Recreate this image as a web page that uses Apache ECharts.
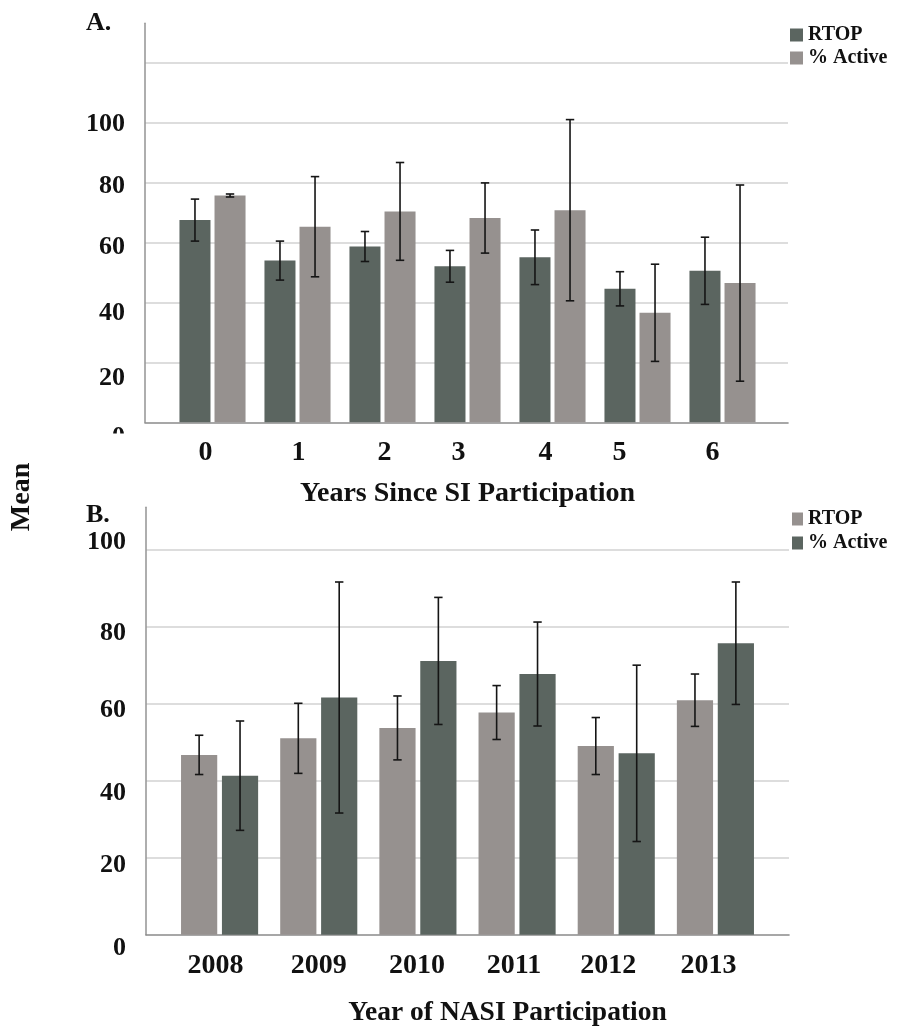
<!DOCTYPE html>
<html>
<head>
<meta charset="utf-8">
<script src="https://cdn.jsdelivr.net/npm/echarts@6/dist/echarts.min.js"></script>
<style>
html,body{margin:0;padding:0;background:#fff;}
#chart{width:902px;height:1032px;}
</style>
</head>
<body>
<div id="chart"></div>
<script>
// ---- Panel A data ----
var catsA = ['0', '1', '2', '3', '4', '5', '6'];
var rtopA = [67.4, 53.9, 58.6, 52.0, 55.0, 44.5, 50.5];
var rtopErrA = [7.0, 6.5, 5.0, 5.3, 9.1, 5.7, 11.2];
var activeA = [75.6, 65.2, 70.3, 68.1, 70.7, 36.5, 46.4];
var activeErrA = [0.5, 16.7, 16.3, 11.7, 30.2, 16.2, 32.7];
var yTicksA = [0, 20, 40, 60, 80, 100];

// ---- Panel B data ----
var catsB = ['2008', '2009', '2010', '2011', '2012', '2013'];
var rtopB = [46.7, 51.0, 53.7, 57.7, 49.0, 60.9];
var rtopErrB = [5.1, 9.1, 8.3, 7.0, 7.4, 6.8];
var activeB = [41.3, 61.6, 71.1, 67.7, 47.1, 75.7];
var activeErrB = [14.2, 30.0, 16.5, 13.5, 22.9, 15.9];
var yTicksB = [0, 20, 40, 60, 80, 100];

var DARK = '#5b6560', LIGHT = '#96918f';
var FONT = '"Liberation Serif", "DejaVu Serif", serif';
var BAR_W = 0.365, BAR_GAP = 0.13;

// label placement tweaks (pixels) to mimic the hand-placed labels of the original
var yShiftA = {0: 15, 20: 16, 40: 11, 60: 5, 80: 4, 100: 2};
var yShiftB = {0: 14, 20: 8, 40: 13, 60: 7, 80: 7, 100: -7};
var xShiftA = [-7, 1, 2, -9, -7, -18, -10];
var xShiftB = [-4, 0, -1, -3, -8, -7];

function vRich(shifts, size) {
  var r = {};
  Object.keys(shifts).forEach(function (k) {
    var d = shifts[k];
    r['v' + k] = {
      fontSize: size, fontWeight: 'bold', fontFamily: FONT, color: '#111',
      padding: d >= 0 ? [2 * d, 0, 0, 0] : [0, 0, -2 * d, 0]
    };
  });
  return r;
}
function hRich(shifts, size) {
  var r = {};
  shifts.forEach(function (d, i) {
    r['h' + i] = {
      fontSize: size, fontWeight: 'bold', fontFamily: FONT, color: '#111',
      padding: d >= 0 ? [0, 0, 0, 2 * d] : [0, -2 * d, 0, 0]
    };
  });
  return r;
}
function yFormatter(ticks) {
  return function (v) {
    if (ticks.indexOf(v) < 0) return '';
    return '{v' + v + '|' + v + '}';
  };
}
function xFormatter(cats) {
  return function (v) {
    var i = cats.indexOf(v);
    return '{h' + i + '|' + v + '}';
  };
}

function errData(vals, errs) {
  return vals.map(function (v, i) { return [i, v - errs[i], v + errs[i]]; });
}
function errRenderer(side) {
  return function (params, api) {
    var idx = api.value(0);
    var band = api.size([1, 0])[0];
    var w = band * BAR_W, g = w * BAR_GAP;
    var off = side * (w + g) / 2;
    var lo = api.coord([idx, api.value(1)]);
    var hi = api.coord([idx, api.value(2)]);
    var x = lo[0] + off;
    var cap = 4.2;
    var st = {stroke: '#151515', lineWidth: 1.6};
    return {
      type: 'group',
      children: [
        {type: 'line', shape: {x1: x, y1: lo[1], x2: x, y2: hi[1]}, style: st},
        {type: 'line', shape: {x1: x - cap, y1: lo[1], x2: x + cap, y2: lo[1]}, style: st},
        {type: 'line', shape: {x1: x - cap, y1: hi[1], x2: x + cap, y2: hi[1]}, style: st}
      ]
    };
  };
}

var chart = echarts.init(document.getElementById('chart'), null, {renderer: 'canvas'});

function outerX(grid) {
  return {
    gridIndex: grid, type: 'value', min: 0, max: 1,
    axisLine: {show: true, lineStyle: {color: '#8a8a8a', width: 1.6}},
    axisTick: {show: false}, axisLabel: {show: false}, splitLine: {show: false}
  };
}
function outerY(grid, max, ticks, shifts) {
  return {
    gridIndex: grid, type: 'value', min: 0, max: max, interval: 20,
    axisLine: {show: true, lineStyle: {color: '#9a9a9a', width: 1.6}},
    axisTick: {show: false},
    axisLabel: {
      show: true, margin: 20, showMaxLabel: false,
      formatter: yFormatter(ticks), rich: vRich(shifts, 26)
    },
    splitLine: {show: true, showMinLine: false, showMaxLine: false,
      lineStyle: {color: '#d2d2d2', width: 1.6}}
  };
}
function innerY(grid, max) {
  return {gridIndex: grid, type: 'value', min: 0, max: max, show: false};
}

var option = {
  backgroundColor: '#fff',
  animation: false,
  title: [
    {text: 'A.', left: 81, top: 5, textStyle: {fontFamily: FONT, fontWeight: 'bold', fontSize: 26, color: '#111'}},
    {text: 'B.', left: 81, top: 497, textStyle: {fontFamily: FONT, fontWeight: 'bold', fontSize: 26, color: '#111'}}
  ],
  legend: [
    {
      data: [{name: 'RTOP', itemStyle: {color: DARK}}, {name: '% Active', itemStyle: {color: LIGHT}}],
      orient: 'vertical', left: 790, top: 25, itemWidth: 13, itemHeight: 13, itemGap: 3,
      itemTextGap: 6, selectedMode: false, icon: 'rect', padding: 0,
      textStyle: {fontFamily: FONT, fontWeight: 'bold', fontSize: 20, lineHeight: 14, color: '#111'}
    },
    {
      data: [{name: 'RTOP', itemStyle: {color: LIGHT}}, {name: '% Active', itemStyle: {color: DARK}}],
      orient: 'vertical', left: 792, top: 509, itemWidth: 11, itemHeight: 13, itemGap: 4,
      itemTextGap: 10, selectedMode: false, icon: 'rect', padding: 0,
      textStyle: {fontFamily: FONT, fontWeight: 'bold', fontSize: 20, lineHeight: 14, color: '#111'}
    }
  ],
  grid: [
    {left: 145, right: 114, top: 23.3, bottom: 609.7},
    {left: 170, right: 137, top: 23.3, bottom: 609.7},
    {left: 146, right: 113, top: 507.3, bottom: 97.3},
    {left: 170, right: 137, top: 507.3, bottom: 97.3}
  ],
  xAxis: [
    outerX(0),
    {
      gridIndex: 1, type: 'category', data: catsA,
      axisLine: {show: false}, axisTick: {show: false},
      axisLabel: {margin: 16, formatter: xFormatter(catsA), rich: hRich(xShiftA, 28)},
      name: 'Years Since SI Participation', nameLocation: 'middle', nameGap: 57,
      nameTextStyle: {fontFamily: FONT, fontWeight: 'bold', fontSize: 28, color: '#111', padding: [0, 0, 0, 0]}
    },
    outerX(2),
    {
      gridIndex: 3, type: 'category', data: catsB,
      axisLine: {show: false}, axisTick: {show: false},
      axisLabel: {margin: 17, formatter: xFormatter(catsB), rich: hRich(xShiftB, 28)},
      name: 'Year of NASI Participation', nameLocation: 'middle', nameGap: 64,
      nameTextStyle: {fontFamily: FONT, fontWeight: 'bold', fontSize: 27.5, color: '#111', padding: [0, 0, 0, 80]}
    }
  ],
  yAxis: [
    outerY(0, 133, yTicksA, yShiftA),
    innerY(1, 133),
    outerY(2, 111, yTicksB, yShiftB),
    innerY(3, 111)
  ],
  series: [
    {name: 'RTOP', type: 'bar', xAxisIndex: 1, yAxisIndex: 1, data: rtopA,
      barWidth: (BAR_W * 100) + '%', barGap: (BAR_GAP * 100) + '%', itemStyle: {color: DARK}},
    {name: '% Active', type: 'bar', xAxisIndex: 1, yAxisIndex: 1, data: activeA,
      barWidth: (BAR_W * 100) + '%', barGap: (BAR_GAP * 100) + '%', itemStyle: {color: LIGHT}},
    {name: 'errRtopA', type: 'custom', xAxisIndex: 1, yAxisIndex: 1, data: errData(rtopA, rtopErrA),
      renderItem: errRenderer(-1), encode: {x: 0, y: [1, 2]}, z: 5},
    {name: 'errActiveA', type: 'custom', xAxisIndex: 1, yAxisIndex: 1, data: errData(activeA, activeErrA),
      renderItem: errRenderer(1), encode: {x: 0, y: [1, 2]}, z: 5},

    {name: 'RTOP', type: 'bar', xAxisIndex: 3, yAxisIndex: 3, data: rtopB,
      barWidth: (BAR_W * 100) + '%', barGap: (BAR_GAP * 100) + '%', itemStyle: {color: LIGHT}},
    {name: '% Active', type: 'bar', xAxisIndex: 3, yAxisIndex: 3, data: activeB,
      barWidth: (BAR_W * 100) + '%', barGap: (BAR_GAP * 100) + '%', itemStyle: {color: DARK}},
    {name: 'errRtopB', type: 'custom', xAxisIndex: 3, yAxisIndex: 3, data: errData(rtopB, rtopErrB),
      renderItem: errRenderer(-1), encode: {x: 0, y: [1, 2]}, z: 5},
    {name: 'errActiveB', type: 'custom', xAxisIndex: 3, yAxisIndex: 3, data: errData(activeB, activeErrB),
      renderItem: errRenderer(1), encode: {x: 0, y: [1, 2]}, z: 5}
  ],
  graphic: [
    {type: 'text', x: 22, y: 497, rotation: Math.PI / 2, z: 10,
      style: {text: 'Mean', font: 'bold 28px ' + FONT, fill: '#111', textAlign: 'center', textVerticalAlign: 'middle'}},
    {type: 'rect', shape: {x: 78, y: 433.5, width: 60, height: 13}, style: {fill: '#fff'}, z: 100, silent: true}
  ]
};
chart.setOption(option);
</script>
</body>
</html>
